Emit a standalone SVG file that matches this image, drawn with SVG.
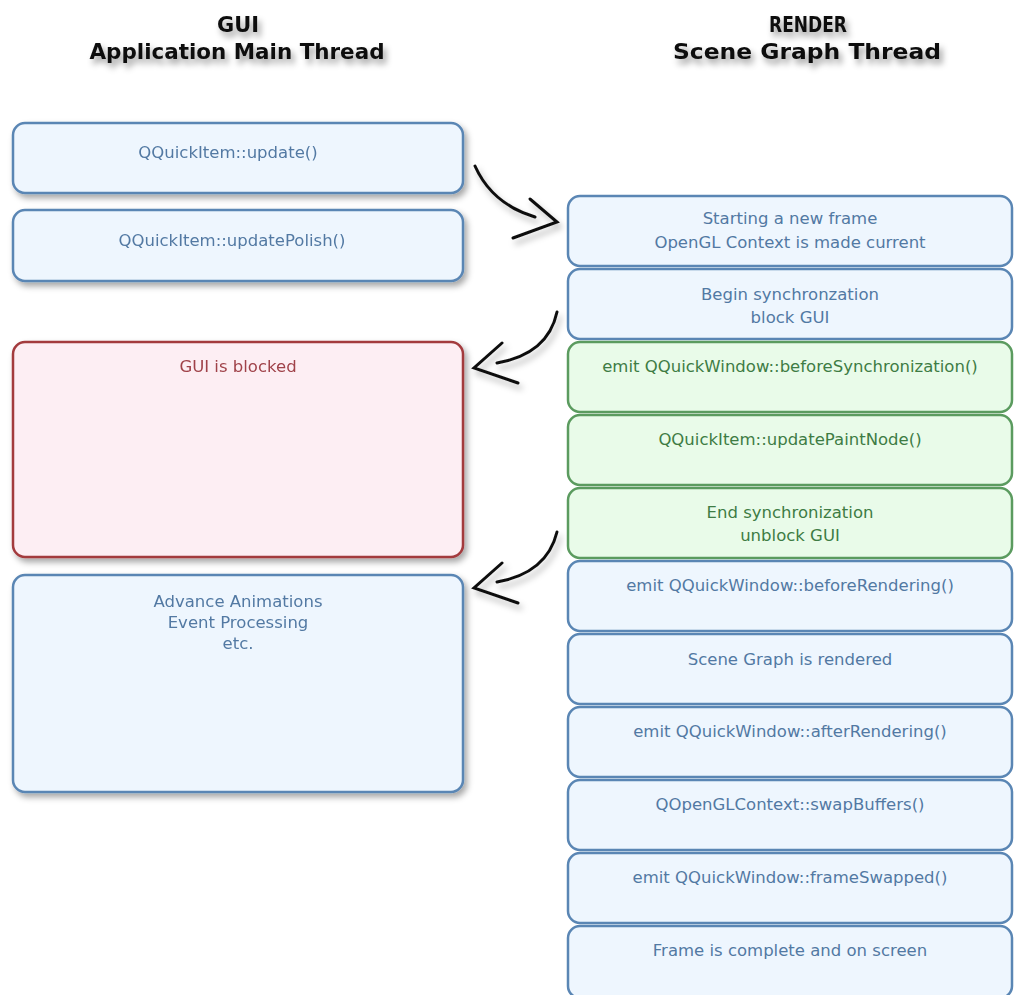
<svg xmlns="http://www.w3.org/2000/svg" width="1014" height="995" viewBox="0 0 1014 995">
<defs>
<filter id="sh" x="-10%" y="-10%" width="125%" height="130%">
<feDropShadow dx="3" dy="4" stdDeviation="3" flood-color="#000" flood-opacity="0.35"/>
</filter>
<filter id="hsh" x="-10%" y="-30%" width="130%" height="180%">
<feDropShadow dx="3" dy="5" stdDeviation="3" flood-color="#000" flood-opacity="0.4"/>
</filter>
<filter id="ash" x="-30%" y="-30%" width="170%" height="170%">
<feDropShadow dx="3" dy="5" stdDeviation="3" flood-color="#000" flood-opacity="0.3"/>
</filter>
<style>
.hdr{font-family:"DejaVu Sans Condensed","DejaVu Sans",sans-serif;font-stretch:condensed;font-weight:bold;font-size:21px;fill:#111;text-anchor:middle}
.t{font-family:"DejaVu Sans","Open Sans",sans-serif;font-size:16.5px;text-anchor:middle}
.b rect{fill:#eef6fe;stroke:#5a86b4;stroke-width:2.5}
.b text{fill:#5279a3}
.g rect{fill:#e9fbe9;stroke:#5b9b5f;stroke-width:2.5}
.g text{fill:#3e7c44}
.r rect{fill:#fdeef3;stroke:#a33a3e;stroke-width:2.5}
.r text{fill:#a0434a}
.arr{fill:none;stroke:#111;stroke-width:3;stroke-linecap:round}
</style>
</defs>
<rect width="1014" height="995" fill="#ffffff"/>

<g id="headers" filter="url(#hsh)">
<text class="hdr" x="238" y="32" textLength="42" lengthAdjust="spacingAndGlyphs">GUI</text>
<text class="hdr" x="237" y="59" textLength="295" lengthAdjust="spacingAndGlyphs">Application Main Thread</text>
<text class="hdr" x="808" y="32" textLength="78" lengthAdjust="spacingAndGlyphs">RENDER</text>
<text class="hdr" x="807" y="59" textLength="268" lengthAdjust="spacingAndGlyphs">Scene Graph Thread</text>
</g>

<g id="gui-update" class="b t" filter="url(#sh)">
<rect x="13" y="123" width="450" height="70" rx="12"/>
<text x="228" y="158">QQuickItem::update()</text>
</g>
<g id="gui-updatePolish" class="b t" filter="url(#sh)">
<rect x="13" y="210" width="450" height="71" rx="12"/>
<text x="232" y="246">QQuickItem::updatePolish()</text>
</g>
<g id="gui-blocked" class="r t" filter="url(#sh)">
<rect x="13" y="342" width="450" height="215" rx="12"/>
<text x="238" y="372">GUI is blocked</text>
</g>
<g id="gui-animations" class="b t" filter="url(#sh)">
<rect x="13" y="575" width="450" height="217" rx="12"/>
<text x="238" y="607">Advance Animations</text>
<text x="238" y="628">Event Processing</text>
<text x="238" y="649">etc.</text>
</g>

<g id="r-start" class="b t">
<rect x="568" y="196" width="444" height="70" rx="12"/>
<text x="790" y="224">Starting a new frame</text>
<text x="790" y="248">OpenGL Context is made current</text>
</g>
<g id="r-beginsync" class="b t">
<rect x="568" y="269" width="444" height="70" rx="12"/>
<text x="790" y="300">Begin synchronzation</text>
<text x="790" y="323">block GUI</text>
</g>
<g id="r-beforesync" class="g t">
<rect x="568" y="342" width="444" height="70" rx="12"/>
<text x="790" y="372">emit QQuickWindow::beforeSynchronization()</text>
</g>
<g id="r-updatepaint" class="g t">
<rect x="568" y="415" width="444" height="70" rx="12"/>
<text x="790" y="445">QQuickItem::updatePaintNode()</text>
</g>
<g id="r-endsync" class="g t">
<rect x="568" y="488" width="444" height="70" rx="12"/>
<text x="790" y="518">End synchronization</text>
<text x="790" y="541">unblock GUI</text>
</g>
<g id="r-beforerender" class="b t">
<rect x="568" y="561" width="444" height="70" rx="12"/>
<text x="790" y="591">emit QQuickWindow::beforeRendering()</text>
</g>
<g id="r-rendered" class="b t">
<rect x="568" y="634" width="444" height="70" rx="12"/>
<text x="790" y="665">Scene Graph is rendered</text>
</g>
<g id="r-afterrender" class="b t">
<rect x="568" y="707" width="444" height="70" rx="12"/>
<text x="790" y="737">emit QQuickWindow::afterRendering()</text>
</g>
<g id="r-swap" class="b t">
<rect x="568" y="780" width="444" height="70" rx="12"/>
<text x="790" y="810">QOpenGLContext::swapBuffers()</text>
</g>
<g id="r-swapped" class="b t">
<rect x="568" y="853" width="444" height="70" rx="12"/>
<text x="790" y="883">emit QQuickWindow::frameSwapped()</text>
</g>
<g id="r-complete" class="b t">
<rect x="568" y="926" width="444" height="72" rx="12"/>
<text x="790" y="956">Frame is complete and on screen</text>
</g>

<g id="connectors" class="arr" filter="url(#ash)">
<path d="M475,166 Q492,204 535,217"/>
<path d="M530,199 L557,222 L513,238"/>
<path d="M557,312 Q548,354 497,363"/>
<path d="M502,343 L474,368 L518,383"/>
<path d="M557,532 Q547,573 497,582"/>
<path d="M502,563 L474,588 L518,603"/>
</g>
</svg>
